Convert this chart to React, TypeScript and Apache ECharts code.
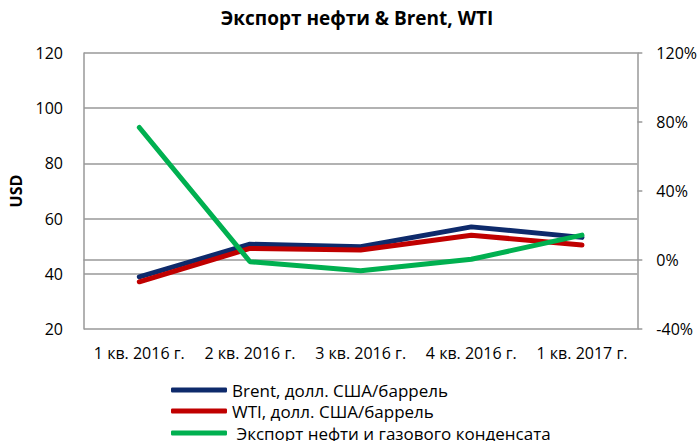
import React, { useEffect, useRef } from "react";
import * as echarts from "echarts";

const categories = ["1 кв. 2016 г.", "2 кв. 2016 г.", "3 кв. 2016 г.", "4 кв. 2016 г.", "1 кв. 2017 г."];
const brent = [38.9, 50.7, 49.8, 57.0, 53.2];
const wti = [37.1, 49.2, 48.6, 54.0, 50.4];
const exportPct = [76.8, -1.0, -6.2, 0.4, 14.4];
const seriesNames = [
  "Brent, долл. США/баррель",
  "WTI, долл. США/баррель",
  " Экспорт нефти и газового конденсата",
];

const FONT = "'Open Sans', 'Noto Sans', sans-serif";
const legendTops = [381.5, 402.5, 424.5];

export default function App() {
  const ref = useRef<HTMLDivElement>(null);
  useEffect(() => {
    if (!ref.current) return;
    const chart = echarts.init(ref.current, null, { renderer: "svg" });
    chart.setOption({
      animation: false,
      backgroundColor: "#ffffff",
      textStyle: { fontFamily: FONT },
      title: {
        text: "Экспорт нефти & Brent, WTI",
        left: 357,
        textAlign: "center",
        top: 8,
        padding: 0,
        textStyle: { fontSize: 19, fontWeight: "bold", color: "#000", fontFamily: FONT },
      },
      grid: { left: 83, right: 60, top: 53, bottom: 112, containLabel: false },
      legend: seriesNames.map((n, i) => ({
        orient: "vertical",
        left: 171,
        top: legendTops[i],
        padding: 0,
        itemWidth: 56,
        itemHeight: 5,
        icon: "roundRect",
        textStyle: { fontSize: 17, color: "#000", fontFamily: FONT },
        data: [n],
      })),
      xAxis: {
        type: "category",
        data: categories,
        boundaryGap: true,
        axisLine: { show: true, lineStyle: { color: "#999", width: 1.5 } },
        axisTick: { show: false },
        axisLabel: { fontSize: 16, color: "#000", margin: 16, interval: 0, fontFamily: FONT },
      },
      yAxis: [
        {
          type: "value",
          min: 20,
          max: 120,
          interval: 20,
          name: "USD",
          nameLocation: "middle",
          nameGap: 60,
          nameRotate: 90,
          nameTextStyle: { fontSize: 16, fontWeight: "bold", color: "#000", fontFamily: FONT },
          axisLine: { show: true, lineStyle: { color: "#999", width: 1.5 } },
          axisTick: { show: false },
          splitLine: { show: true, lineStyle: { color: "#999", width: 1.5 } },
          axisLabel: { fontSize: 16, color: "#000", margin: 21, fontFamily: FONT },
        },
        {
          type: "value",
          min: -40,
          max: 120,
          interval: 40,
          position: "right",
          axisLine: { show: true, lineStyle: { color: "#999", width: 1.5 } },
          axisTick: { show: true, length: 5, lineStyle: { color: "#999", width: 1.5 } },
          splitLine: { show: false },
          axisLabel: { fontSize: 16, color: "#000", margin: 19, formatter: "{value}%", fontFamily: FONT },
        },
      ],
      series: [
        {
          name: seriesNames[0],
          type: "line",
          data: brent,
          yAxisIndex: 0,
          symbol: "none",
          lineStyle: { color: "#0e2a6b", width: 5, cap: "round" },
          itemStyle: { color: "#0e2a6b" },
        },
        {
          name: seriesNames[1],
          type: "line",
          data: wti,
          yAxisIndex: 0,
          symbol: "none",
          lineStyle: { color: "#c00000", width: 5, cap: "round" },
          itemStyle: { color: "#c00000" },
        },
        {
          name: seriesNames[2],
          type: "line",
          data: exportPct,
          yAxisIndex: 1,
          symbol: "none",
          lineStyle: { color: "#00b050", width: 5, cap: "round" },
          itemStyle: { color: "#00b050" },
        },
      ],
    });
    return () => chart.dispose();
  }, []);
  return <div ref={ref} style={{ width: 700, height: 441, position: "absolute", left: 0, top: 0 }} />;
}
